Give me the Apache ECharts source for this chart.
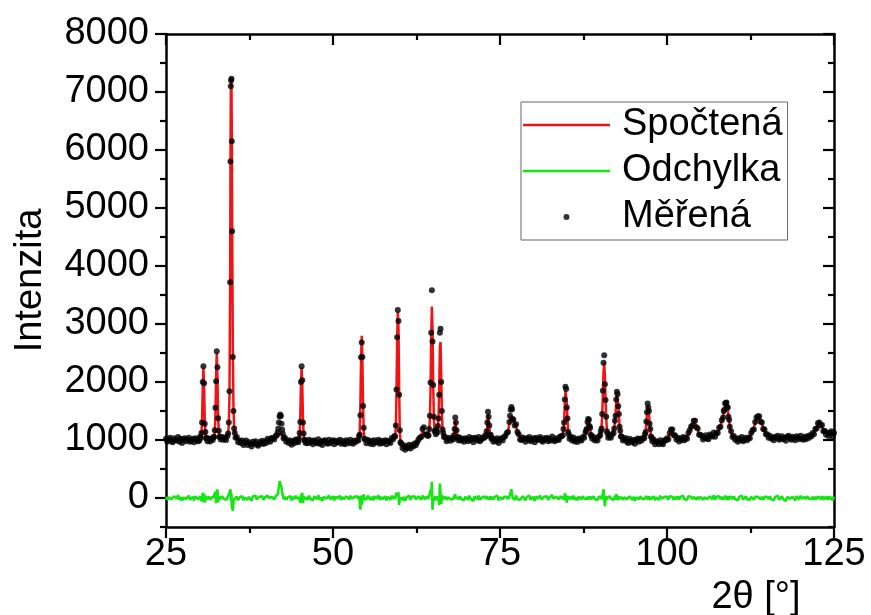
<!DOCTYPE html>
<html>
<head>
<meta charset="utf-8">
<script src="https://cdn.jsdelivr.net/npm/echarts@6/dist/echarts.min.js"></script>
<style>
html,body{margin:0;padding:0;background:#fff;}
#chart{width:871px;height:615px;}
</style>
</head>
<body>
<div id="chart"></div>
<script>
// ---- DATA ----
const twoTheta = [
25.0,25.2,25.4,25.6,25.8,26.0,26.2,26.4,26.6,26.8,27.0,27.2,27.4,27.6,27.8,28.0,28.2,28.4,28.6,28.8,29.0,29.2,29.4,29.6,29.8,
30.0,30.1,30.2,30.3,30.4,30.5,30.6,30.7,30.8,30.9,31.0,31.1,31.2,
31.4,31.6,31.8,32.0,
32.1,32.2,32.3,32.4,32.5,32.6,32.7,32.8,32.9,33.0,33.1,
33.2,33.4,33.6,33.8,34.0,34.2,
34.3,34.4,34.5,34.6,34.65,34.7,34.75,34.8,34.85,34.9,35.0,35.1,35.2,35.3,
35.4,35.6,35.8,36.0,
36.2,36.4,36.6,36.8,37.0,37.2,37.4,37.6,37.8,38.0,38.2,38.4,38.6,38.8,39.0,39.2,39.4,39.6,39.8,40.0,40.2,40.4,40.6,40.8,
41.0,41.2,41.4,41.6,41.7,41.8,41.9,42.0,42.1,42.2,42.3,42.4,42.5,42.6,42.8,43.0,43.2,43.4,
43.6,43.8,44.0,44.2,44.4,44.6,
44.7,44.8,44.9,45.0,45.1,45.2,45.3,45.4,45.5,45.6,45.7,45.8,45.9,
46.0,46.2,46.4,46.6,46.8,47.0,47.2,47.4,47.6,47.8,48.0,48.2,48.4,48.6,48.8,49.0,49.2,49.4,49.6,49.8,50.0,50.2,50.4,50.6,50.8,51.0,51.2,51.4,51.6,51.8,52.0,52.2,52.4,52.6,52.8,53.0,53.2,53.4,53.6,
53.8,53.9,54.0,54.1,54.2,54.3,54.4,54.5,54.6,54.7,54.8,
55.0,55.2,55.4,55.6,55.8,56.0,56.2,56.4,56.6,56.8,57.0,57.2,57.4,57.6,57.8,58.0,58.2,58.4,58.6,58.8,59.0,
59.2,59.3,59.4,59.5,59.6,59.7,59.8,59.9,60.0,60.1,60.2,
60.4,60.6,60.8,61.0,61.2,61.4,61.6,61.8,62.0,62.2,62.4,62.6,62.8,
63.0,63.2,63.4,63.6,63.8,64.0,64.2,
64.3,64.4,64.5,64.6,64.7,64.8,64.9,65.0,65.1,65.2,65.3,65.4,65.5,65.6,65.7,65.8,65.9,66.0,66.1,66.2,66.3,66.4,66.5,66.6,
66.8,67.0,67.2,67.4,67.6,67.8,
68.0,68.1,68.2,68.3,68.4,68.5,68.6,68.7,68.8,
69.0,69.2,69.4,69.6,69.8,70.0,70.2,70.4,70.6,70.8,71.0,71.2,71.4,71.6,71.8,72.0,72.2,72.4,72.6,
72.8,72.9,73.0,73.1,73.2,73.3,73.4,73.5,73.6,73.7,73.8,
74.0,74.2,74.4,74.6,74.8,75.0,75.2,75.4,75.6,75.8,
76.0,76.2,76.4,76.5,76.6,76.7,76.8,76.9,77.0,77.2,77.4,77.6,77.8,78.0,
78.2,78.4,78.6,78.8,79.0,79.2,79.4,79.6,79.8,80.0,80.2,80.4,80.6,80.8,81.0,81.2,81.4,81.6,81.8,82.0,82.2,82.4,82.6,82.8,83.0,83.2,83.4,83.6,83.8,84.0,84.2,
84.4,84.5,84.6,84.7,84.8,84.9,85.0,85.1,85.2,85.3,85.4,
85.6,85.8,86.0,86.2,86.4,86.6,86.8,87.0,87.2,87.4,87.6,87.8,
87.9,88.0,88.1,88.2,88.3,88.4,88.5,88.6,88.7,88.8,
89.0,89.2,89.4,89.6,89.8,90.0,
90.1,90.2,90.3,90.4,90.5,90.6,90.7,90.8,90.9,91.0,91.1,
91.2,91.4,91.6,91.8,92.0,
92.1,92.2,92.3,92.4,92.5,92.6,92.7,92.8,92.9,93.0,93.1,
93.2,93.4,93.6,93.8,94.0,94.2,94.4,94.6,94.8,95.0,95.2,95.4,95.6,95.8,96.0,96.2,96.4,96.6,
96.7,96.8,96.9,97.0,97.1,97.2,97.3,97.4,97.5,97.6,97.7,
97.8,98.0,98.2,98.4,98.6,98.8,99.0,99.2,99.4,99.6,99.8,
100.0,100.2,100.4,100.6,100.8,101.0,101.2,101.4,101.6,
101.8,102.0,102.2,102.4,102.6,102.8,103.0,103.2,103.4,
103.6,103.8,104.0,104.2,104.4,104.6,104.8,105.0,
105.2,105.4,105.6,105.8,106.0,106.2,106.4,106.6,106.8,107.0,107.2,107.4,107.6,107.8,108.0,
108.2,108.4,108.5,108.6,108.7,108.8,108.9,109.0,109.1,109.2,109.3,109.4,109.6,109.8,
110.0,110.2,110.4,110.6,110.8,111.0,111.2,111.4,111.6,111.8,112.0,112.2,112.4,112.6,
112.8,113.0,113.2,113.4,113.6,113.8,114.0,114.2,114.4,114.6,114.8,115.0,115.2,
115.4,115.6,115.8,116.0,116.2,116.4,116.6,116.8,117.0,117.2,117.4,117.6,117.8,118.0,118.2,118.4,118.6,118.8,119.0,119.2,119.4,119.6,119.8,120.0,120.2,120.4,120.6,120.8,121.0,121.2,121.4,121.6,
121.8,122.0,122.2,122.4,122.6,122.8,123.0,123.2,123.4,123.6,
123.8,124.0,124.2,124.4,124.6,124.8,125.0
];

const measured = [
1020,970,1010,1040,980,960,1030,1000,990,1050,970,1020,950,1010,1030,980,1000,1040,970,990,1020,960,1030,1010,980,
990,1055,1040,1120,1300,2000,2270,1980,1280,1140,1030,1035,980,
1025,975,1020,1000,
1050,1050,1170,1555,2015,2530,2255,1375,1160,1050,1055,
1010,1050,1005,1040,1000,1070,
1110,1300,1840,3720,5800,7100,7200,7230,6150,4600,2430,1500,1200,1120,
1040,1050,960,990,
950,990,915,960,990,915,960,930,890,970,940,980,920,900,965,940,985,930,975,950,1020,990,970,1035,
1030,1010,1070,1080,1130,1195,1300,1405,1440,1415,1280,1175,1105,1025,1040,970,995,950,
990,920,980,945,1010,975,
1000,960,1025,1120,1310,2000,2270,2030,1300,1110,995,1000,950,
985,945,1005,955,985,925,995,965,945,1015,935,975,915,985,995,955,935,1005,945,975,995,925,985,955,965,1005,935,985,945,925,995,975,945,1005,955,935,985,965,995,
990,1070,1090,1425,2425,2680,2430,1585,1210,1020,1010,
945,1005,975,935,985,925,995,955,965,1005,935,985,945,975,995,925,985,970,950,1035,1015,
1070,1060,1250,1870,2770,3240,3050,1780,1170,960,940,
860,910,830,890,860,920,855,910,890,940,910,960,1010,
1040,1050,1190,1220,1090,1100,1070,
1080,1190,1420,1990,2850,3580,2700,1950,1400,1150,1170,1100,1160,1130,1240,1370,1780,2850,2920,2000,1500,1180,1120,1050,
1050,980,1010,1040,985,1030,
1010,1080,1190,1390,1300,1170,1040,1050,990,
1040,990,1020,970,1030,1010,980,1050,1000,1030,960,1040,1020,990,1050,980,1010,1045,1035,
1080,1060,1150,1300,1485,1400,1250,1080,1090,1020,1040,
970,1015,980,1030,950,1005,1030,990,1050,1070,
1120,1140,1310,1420,1520,1570,1530,1360,1350,1250,1270,1140,1100,1010,
1000,1045,1020,970,1030,1000,1050,980,1010,1030,960,1040,1000,1020,1050,990,970,1030,1010,1040,980,1020,990,1060,1000,980,1030,1010,1000,1060,1060,
1080,1190,1300,1700,1920,1880,1560,1370,1140,1100,1020,
1050,990,1045,975,1015,965,1025,1005,990,1050,1040,1130,
1170,1190,1310,1360,1350,1240,1210,1090,1070,1020,
1050,990,1020,990,1060,1080,
1150,1200,1450,1850,2330,2460,1960,1690,1400,1150,1110,
1040,1070,1040,1100,1120,
1200,1330,1420,1700,1830,1790,1580,1450,1230,1160,1060,
1060,990,1015,1035,970,950,1020,985,955,1005,935,995,1025,970,1020,990,1035,1030,
1100,1140,1320,1480,1630,1560,1500,1280,1190,1060,1040,
980,1010,925,970,975,925,995,950,925,995,990,
1030,1010,1120,1180,1180,1080,1080,1010,1040,
975,1025,995,1050,995,1040,1020,1120,1170,
1230,1250,1330,1330,1220,1200,1090,1090,
1070,1010,1045,1080,1025,1015,1095,1075,1060,1130,1055,1120,1120,1210,1230,
1340,1390,1500,1520,1630,1640,1645,1570,1560,1400,1350,1230,1150,1050,
1070,1005,1025,970,1030,1000,1050,980,1010,1040,995,1040,1030,1120,
1170,1180,1310,1390,1410,1410,1320,1300,1190,1180,1100,1100,1040,
1075,1020,1045,995,1055,1035,1075,1005,1025,1065,1015,1045,985,1055,1075,1025,1005,1055,1035,995,1065,1045,1015,1075,1025,1005,1055,1015,1065,1035,1080,1060,
1120,1100,1190,1200,1290,1300,1250,1260,1150,1160,
1090,1130,1070,1120,1150,1060,1120
];

const calculated = [
1000,1000,1000,1000,1000,1000,1000,1000,1000,1000,1000,1000,1000,1000,1000,1000,1000,1000,1000,1000,1000,1000,1000,1000,1000,
1010,1025,1050,1100,1360,1910,2250,1910,1360,1100,1050,1025,1010,
1005,1005,1010,1020,
1040,1070,1130,1445,2105,2510,2105,1445,1130,1070,1045,
1030,1020,1015,1020,1030,1060,
1120,1260,1750,3650,5650,6950,7250,7150,6300,4750,2650,1560,1220,1110,
1070,1030,1000,980,
970,960,955,950,950,945,940,940,940,940,940,940,940,940,945,950,955,960,965,970,980,990,1000,1015,
1020,1030,1040,1060,1070,1085,1100,1115,1120,1115,1100,1085,1065,1045,1020,1000,985,970,
960,960,960,965,970,985,
978,991,1016,1080,1390,1940,2245,1940,1390,1080,1016,991,978,
975,975,965,965,965,965,965,965,965,965,965,965,965,965,965,965,965,965,965,965,965,965,965,965,965,965,965,965,965,965,965,965,965,965,965,965,965,965,965,
1000,1040,1150,1625,2385,2795,2385,1625,1150,1040,1000,
965,965,965,965,965,965,965,965,965,965,965,965,965,965,965,965,965,970,980,995,1025,
1040,1080,1200,1780,2700,3210,2950,1900,1150,990,930,
900,890,880,880,880,880,885,890,900,910,930,950,980,
1020,1080,1150,1160,1110,1070,1080,
1100,1160,1350,1850,2800,3300,2900,1950,1380,1200,1140,1120,1130,1160,1220,1400,1900,2600,2690,2100,1450,1200,1110,1070,
1030,1010,1000,1000,1005,1020,
1030,1060,1160,1330,1320,1150,1060,1030,1015,
1010,1010,1010,1010,1010,1010,1010,1010,1010,1010,1010,1010,1010,1010,1010,1010,1010,1025,1045,
1060,1080,1120,1250,1440,1420,1230,1110,1060,1040,1020,
1000,995,990,990,990,995,1000,1010,1030,1060,
1100,1160,1280,1360,1420,1420,1400,1360,1320,1280,1230,1160,1090,1040,
1020,1015,1010,1010,1010,1010,1010,1010,1010,1010,1010,1010,1010,1010,1010,1010,1010,1010,1010,1010,1010,1010,1010,1010,1010,1010,1010,1010,1020,1030,1050,
1090,1160,1330,1620,1850,1860,1640,1340,1160,1080,1040,
1020,1010,1005,1005,1005,1005,1005,1005,1010,1020,1050,1110,
1150,1210,1290,1340,1330,1260,1180,1110,1060,1040,
1020,1010,1010,1020,1040,1090,
1130,1220,1420,1780,2180,2330,2100,1700,1370,1180,1100,
1060,1040,1050,1080,1150,
1210,1300,1450,1640,1780,1770,1620,1420,1250,1140,1080,
1040,1020,1005,995,990,990,990,985,985,985,985,985,985,990,990,1000,1015,1050,
1090,1160,1290,1450,1580,1590,1470,1310,1170,1080,1030,
1000,980,965,960,955,955,955,960,965,975,990,
1010,1040,1090,1150,1160,1110,1060,1030,1010,
1005,1005,1005,1010,1015,1030,1050,1090,1150,
1210,1270,1310,1300,1250,1180,1110,1070,
1050,1040,1035,1040,1045,1055,1065,1075,1080,1080,1085,1100,1130,1180,1250,
1320,1420,1480,1540,1590,1620,1630,1600,1530,1440,1330,1240,1130,1070,
1040,1025,1015,1010,1010,1010,1010,1010,1010,1010,1015,1030,1060,1100,
1150,1210,1290,1360,1390,1380,1340,1280,1220,1160,1110,1080,1060,
1045,1040,1035,1035,1035,1035,1035,1035,1035,1035,1035,1035,1035,1035,1035,1035,1035,1035,1035,1035,1035,1035,1035,1035,1035,1035,1035,1035,1035,1045,1060,1080,
1100,1130,1170,1220,1260,1280,1270,1230,1180,1140,
1110,1100,1100,1100,1100,1100,1100
];

const difference = [
20,-30,10,40,-20,-40,30,0,-10,50,-30,20,-50,10,30,-20,0,40,-30,-10,20,-40,30,10,-20,
-20,30,-10,20,-60,90,20,70,-80,40,-20,10,-30,
20,-30,10,-20,
10,-20,40,110,-90,20,150,-70,30,-20,10,
-20,30,-10,20,-30,10,
-10,40,90,70,150,150,-50,80,-150,-150,-220,-60,-20,10,
-30,20,-40,10,
-20,30,-40,10,40,-30,20,-10,-50,30,0,40,-20,-40,20,-10,30,-30,10,-20,40,0,-30,20,
10,-20,30,20,60,110,200,290,320,300,180,90,40,-20,20,-30,10,-20,
30,-40,20,-20,40,-10,
20,-30,10,40,-80,60,25,90,-90,30,-20,10,-30,
10,-30,40,-10,20,-40,30,0,-20,50,-30,10,-50,20,30,-10,-30,40,-20,10,30,-40,20,-10,0,40,-30,20,-20,-40,30,10,-20,40,-10,-30,20,0,30,
-10,30,-60,-200,40,-115,45,-40,60,-20,10,
-20,40,10,-30,20,-40,30,-10,0,40,-30,20,-20,10,30,-40,20,0,-30,40,-10,
30,-20,50,90,70,30,100,-120,20,-30,10,
-40,20,-50,10,-20,40,-30,20,-10,30,-20,10,30,
20,-30,40,60,-20,30,-10,
-20,30,70,140,50,280,-200,0,20,-50,30,-20,30,-30,20,-30,-120,250,230,-100,50,-20,10,-20,
20,-30,10,40,-20,10,
-20,20,30,60,-20,20,-20,20,-25,
30,-20,10,-40,20,0,-30,40,-10,20,-50,30,10,-20,40,-30,0,20,-10,
20,-20,30,50,45,-20,20,-30,30,-20,20,
-30,20,-10,40,-40,10,30,-20,20,10,
20,-20,30,60,100,150,130,0,30,-30,40,-20,10,-30,
-20,30,10,-40,20,-10,40,-30,0,20,-50,30,-10,10,40,-20,-40,20,0,30,-30,10,-20,50,-10,-30,20,0,-20,30,10,
-10,30,-30,80,70,20,-80,30,-20,20,-20,
30,-20,40,-30,10,-40,20,0,-20,30,-10,20,
20,-20,20,20,20,-20,30,-20,10,-20,
30,-20,10,-30,20,-10,
20,-20,30,70,150,130,-140,-10,30,-30,10,
-20,30,-10,20,-30,
-10,30,-30,60,50,20,-40,30,-20,20,-20,
20,-30,10,40,-20,-40,30,0,-30,20,-50,10,40,-20,30,-10,20,-20,
10,-20,30,30,50,-30,30,-30,20,-20,10,
-20,30,-40,10,20,-30,40,-10,-40,20,0,
20,-30,30,30,20,-30,20,-20,30,
-30,20,-10,40,-20,10,-30,30,20,
20,-20,20,30,-30,20,-20,20,
20,-30,10,40,-20,-40,30,0,-20,50,-30,20,-10,30,-20,
20,-30,20,-20,40,20,15,-30,30,-40,20,-10,20,-20,
30,-20,10,-40,20,-10,40,-30,0,30,-20,10,-30,20,
20,-30,20,30,20,30,-20,20,-30,20,-10,20,-20,
30,-20,10,-40,20,0,40,-30,-10,30,-20,10,-50,20,40,-10,-30,20,0,-40,30,10,-20,40,-10,-30,20,-20,30,-10,20,-20,
20,-30,20,-20,30,20,-20,30,-30,20,
-20,30,-30,20,50,-40,20
];

// tick values shown on the axes
const xTickValues = [25, 50, 75, 100, 125];
const xMinorTickValues = [37.5, 62.5, 87.5, 112.5];
const yTickValues = [0, 1000, 2000, 3000, 4000, 5000, 6000, 7000, 8000];
const yMinorTickValues = [-500, 500, 1500, 2500, 3500, 4500, 5500, 6500, 7500];

const seriesNames = ['Spočtená', 'Odchylka', 'Měřená'];

// ---- CHART ----
const n = Math.min(twoTheta.length, measured.length, calculated.length, difference.length);
const pairs = arr => twoTheta.slice(0, n).map((x, i) => [x, arr[i]]);

const FONT = "'Liberation Sans', Arial, Helvetica, sans-serif";
const BLACK = '#000';
const lineSt = { color: BLACK, width: 2.5 };
const plainNum = v => String(v);

function xAx(pos, ticks, len, inside, withLine, withLabels) {
  return {
    type: 'value', position: pos, min: 25, max: 125, gridIndex: 0,
    axisLine: { show: withLine, onZero: false, lineStyle: lineSt },
    axisTick: { show: true, inside: inside, length: len, customValues: ticks, lineStyle: { color: BLACK, width: 2.2 } },
    axisLabel: withLabels
      ? { show: true, customValues: ticks, formatter: plainNum, fontSize: 38, color: BLACK, fontFamily: FONT, margin: 9 }
      : { show: false },
    splitLine: { show: false }, minorTick: { show: false }
  };
}
function yAx(pos, ticks, len, inside, withLine, withLabels) {
  return {
    type: 'value', position: pos, min: -500, max: 8000, gridIndex: 0,
    axisLine: { show: withLine, onZero: false, lineStyle: lineSt },
    axisTick: { show: true, inside: inside, length: len, customValues: ticks, lineStyle: { color: BLACK, width: 2.2 } },
    axisLabel: withLabels
      ? { show: true, customValues: ticks, formatter: plainNum, fontSize: 38, color: BLACK, fontFamily: FONT, margin: 17 }
      : { show: false },
    splitLine: { show: false }, minorTick: { show: false }
  };
}

const xMain = xAx('bottom', xTickValues, 11, false, true, true);
xMain.name = '2θ [°]';
xMain.nameLocation = 'middle';
xMain.nameGap = 50;
xMain.nameTextStyle = { fontSize: 38, color: BLACK, fontFamily: FONT, padding: [0, 0, 0, 512] };

const yMain = yAx('left', yTickValues, 11, false, true, true);
yMain.name = 'Intenzita';
yMain.nameLocation = 'middle';
yMain.nameGap = 116;
yMain.nameTextStyle = { fontSize: 38, color: BLACK, fontFamily: FONT, padding: [0, 0, 0, 0] };

const lineIcon = 'path://M0,0H87V2.5H0Z';

const option = {
  backgroundColor: '#fff',
  animation: false,
  grid: { left: 166, right: 37, top: 34, bottom: 88, containLabel: false, outerBoundsMode: 'none' },
  xAxis: [
    xMain,
    xAx('bottom', xMinorTickValues, 6, false, false, false),
    xAx('top', xTickValues, 11, true, true, false),
    xAx('top', xMinorTickValues, 6, true, false, false)
  ],
  yAxis: [
    yMain,
    yAx('left', yMinorTickValues, 6, false, false, false),
    yAx('right', yTickValues, 11, true, true, false),
    yAx('right', yMinorTickValues, 6, true, false, false)
  ],
  legend: {
    orient: 'vertical', left: 521, top: 102,
    padding: [3, 5, 3, 2],
    itemWidth: 87, itemHeight: 6, itemGap: 6,
    borderColor: '#666', borderWidth: 1,
    selectedMode: false,
    symbolKeepAspect: true,
    textStyle: { fontSize: 38, color: BLACK, fontFamily: FONT, lineHeight: 40, padding: [0, 0, 0, 7] },
    data: [
      { name: seriesNames[0], icon: lineIcon },
      { name: seriesNames[1], icon: lineIcon },
      { name: seriesNames[2] }
    ]
  },
  series: [
    {
      name: seriesNames[1], type: 'line', xAxisIndex: 0, yAxisIndex: 0,
      data: pairs(difference), symbol: 'none', showSymbol: false,
      lineStyle: { color: '#14e614', width: 2.6 }, itemStyle: { color: '#14e614' }, z: 2
    },
    {
      name: seriesNames[0], type: 'line', xAxisIndex: 0, yAxisIndex: 0,
      data: pairs(calculated), symbol: 'none', showSymbol: false,
      lineStyle: { color: '#f01414', width: 2.5 }, itemStyle: { color: '#f01414' }, z: 3
    },
    {
      name: seriesNames[2], type: 'scatter', xAxisIndex: 0, yAxisIndex: 0,
      data: pairs(measured), symbol: 'circle', symbolSize: 6,
      itemStyle: { color: BLACK }, z: 4
    }
  ]
};

const chart = echarts.init(document.getElementById('chart'), null, { renderer: 'canvas' });
chart.setOption(option);
</script>
</body>
</html>
